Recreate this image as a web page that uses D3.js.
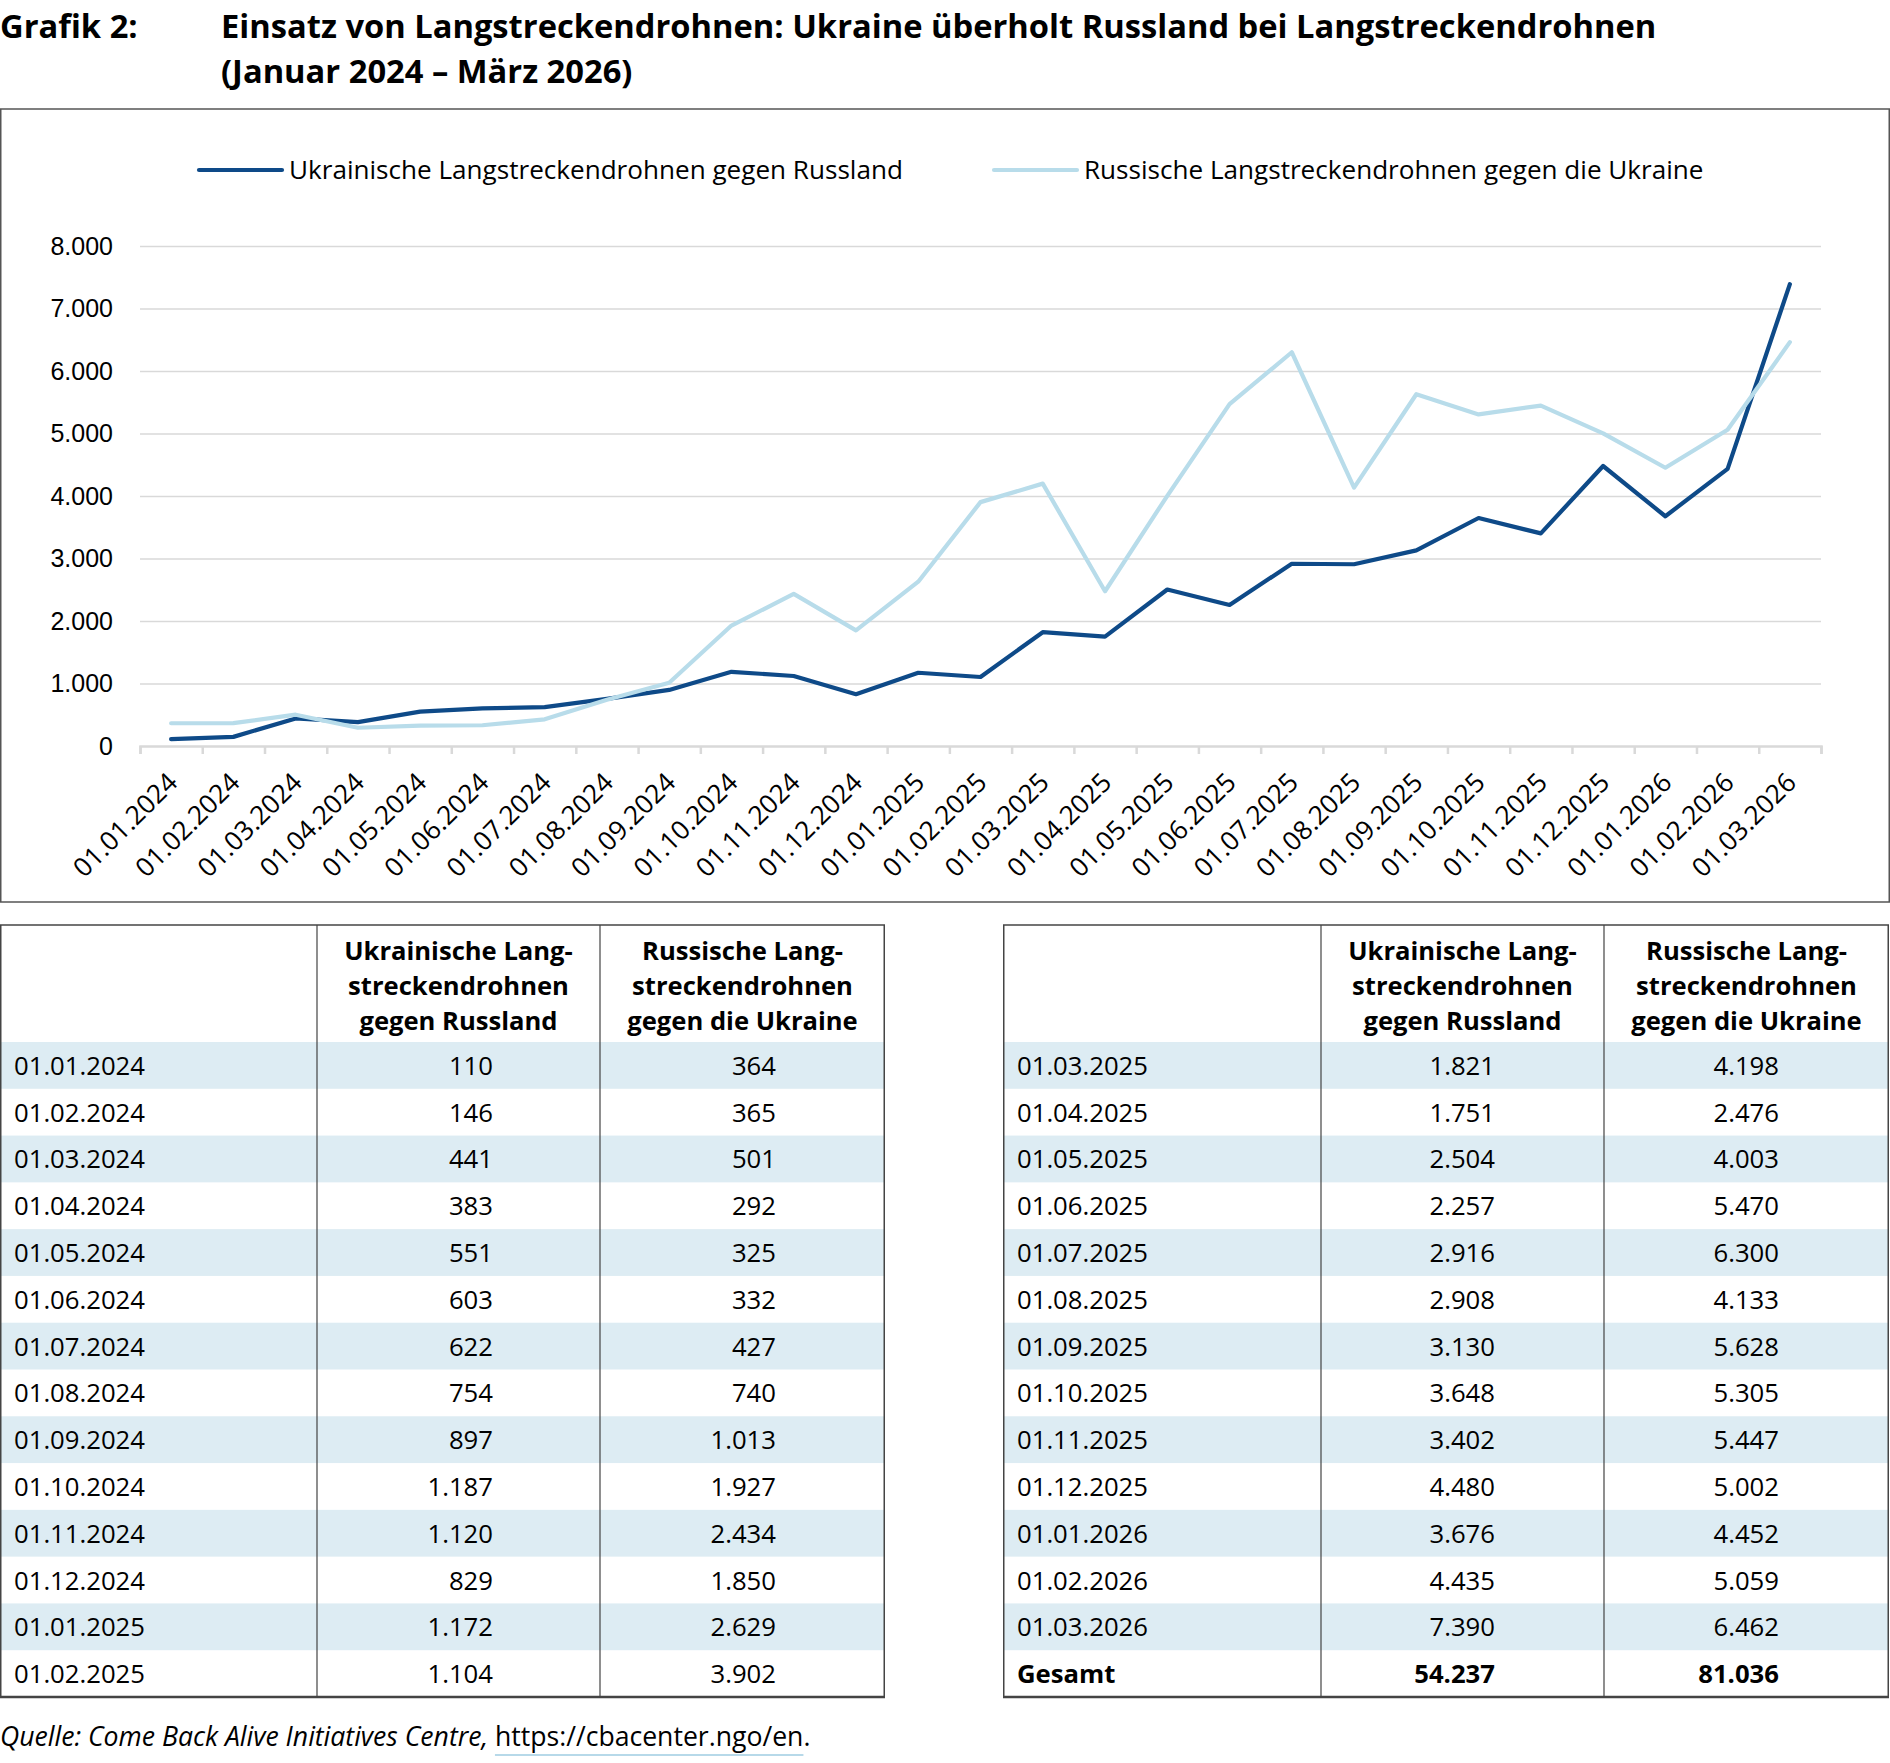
<!DOCTYPE html>
<html>
<head>
<meta charset="utf-8">
<script src="https://cdn.jsdelivr.net/npm/d3@7"></script>
<style>
  body { margin: 0; background: #fff; }
  svg { display: block; font-family: "Open Sans", "Noto Sans", sans-serif; }
</style>
</head>
<body>
<div id="chart"></div>
<script>
/* global d3 */
(function () {
  'use strict'

  // Data
  var dates = [
    '01.01.2024', '01.02.2024', '01.03.2024', '01.04.2024', '01.05.2024', '01.06.2024',
    '01.07.2024', '01.08.2024', '01.09.2024', '01.10.2024', '01.11.2024', '01.12.2024',
    '01.01.2025', '01.02.2025', '01.03.2025', '01.04.2025', '01.05.2025', '01.06.2025',
    '01.07.2025', '01.08.2025', '01.09.2025', '01.10.2025', '01.11.2025', '01.12.2025',
    '01.01.2026', '01.02.2026', '01.03.2026'
  ]
  var ukraine = [110, 146, 441, 383, 551, 603, 622, 754, 897, 1187, 1120, 829, 1172, 1104,
    1821, 1751, 2504, 2257, 2916, 2908, 3130, 3648, 3402, 4480, 3676, 4435, 7390]
  var russia = [364, 365, 501, 292, 325, 332, 427, 740, 1013, 1927, 2434, 1850, 2629, 3902,
    4198, 2476, 4003, 5470, 6300, 4133, 5628, 5305, 5447, 5002, 4452, 5059, 6462]
  var yTicks = [0, 1000, 2000, 3000, 4000, 5000, 6000, 7000, 8000]
  var seriesNames = [
    'Ukrainische Langstreckendrohnen gegen Russland',
    'Russische Langstreckendrohnen gegen die Ukraine'
  ]
  var headerLines = [
    ['Ukrainische Lang-', 'streckendrohnen', 'gegen Russland'],
    ['Russische Lang-', 'streckendrohnen', 'gegen die Ukraine']
  ]
  var totalLabel = 'Gesamt'
  var titleLabel = 'Grafik 2:'
  var titleLines = [
    'Einsatz von Langstreckendrohnen: Ukraine überholt Russland bei Langstreckendrohnen',
    '(Januar 2024 – März 2026)'
  ]
  var sourceText = 'Quelle: Come Back Alive Initiatives Centre, '
  var sourceLink = 'https://cbacenter.ngo/en'

  var colors = { ukr: '#0e4a88', rus: '#b8dcea', grid: '#d9d9d9', border: '#444', shade: '#ddecf3' }

  var de = d3.formatLocale({ decimal: ',', thousands: '.', grouping: [3], currency: ['', '€'] })
  var fmt = de.format(',d')

  var svg = d3.select('#chart').append('svg')
    .attr('width', 1890)
    .attr('height', 1763)

  // Title
  var title = svg.append('g').attr('font-weight', 700).attr('font-size', 32.7).attr('fill', '#000')
  title.append('text').attr('x', 0).attr('y', 38).text(titleLabel)
  title.selectAll('.tl').data(titleLines).enter().append('text')
    .attr('class', 'tl')
    .attr('x', 221)
    .attr('y', function (d, i) { return 38 + i * 45 })
    .text(function (d) { return d })

  // Chart frame
  svg.append('rect')
    .attr('x', 0.75).attr('y', 109)
    .attr('width', 1888.5).attr('height', 793)
    .attr('fill', 'none').attr('stroke', '#555').attr('stroke-width', 1.5)

  // Scales
  var plot = { left: 140, right: 1821, top: 246, bottom: 746 }
  var x = d3.scaleBand().domain(dates).range([plot.left, plot.right])
  var xIdx = d3.scaleLinear().domain([0, dates.length]).range([plot.left, plot.right])
  var y = d3.scaleLinear().domain([0, 8000]).range([plot.bottom, plot.top])

  // Gridlines
  svg.append('g')
    .attr('class', 'grid')
    .attr('transform', 'translate(' + plot.left + ',0)')
    .call(d3.axisLeft(y).tickValues(yTicks.slice(1)).tickSize(-(plot.right - plot.left)).tickFormat(''))
    .call(function (g) {
      g.select('.domain').remove()
      g.selectAll('line').attr('stroke', colors.grid).attr('stroke-width', 1.5)
    })

  // Y labels
  svg.append('g')
    .attr('transform', 'translate(' + plot.left + ',0)')
    .call(d3.axisLeft(y).tickValues(yTicks).tickSize(0).tickPadding(27).tickFormat(fmt))
    .call(function (g) {
      g.select('.domain').remove()
      g.selectAll('text').attr('font-size', 25).attr('font-family', null).attr('fill', '#000')
    })

  // X axis with ticks between categories
  svg.append('g')
    .attr('transform', 'translate(0,' + plot.bottom + ')')
    .call(d3.axisBottom(xIdx).tickValues(d3.range(dates.length + 1)).tickSize(8).tickSizeOuter(8).tickFormat(''))
    .call(function (g) {
      g.select('.domain').attr('stroke', colors.grid).attr('stroke-width', 2.5)
      g.selectAll('line').attr('stroke', colors.grid).attr('stroke-width', 2.5)
    })

  svg.append('g').selectAll('text').data(dates).enter().append('text')
    .attr('transform', function (d) {
      return 'translate(' + (x(d) + x.bandwidth() / 2 + 8) + ',' + (plot.bottom + 38) + ') rotate(-45)'
    })
    .attr('text-anchor', 'end')
    .attr('font-size', 26.3)
    .attr('fill', '#000')
    .text(function (d) { return d })

  // Lines
  var line = d3.line()
    .x(function (d, i) { return x(dates[i]) + x.bandwidth() / 2 })
    .y(function (d) { return y(d) })

  svg.append('path').datum(ukraine)
    .attr('d', line).attr('fill', 'none')
    .attr('stroke', colors.ukr).attr('stroke-width', 4.2)
    .attr('stroke-linecap', 'round').attr('stroke-linejoin', 'round')

  svg.append('path').datum(russia)
    .attr('d', line).attr('fill', 'none')
    .attr('stroke', colors.rus).attr('stroke-width', 4.2)
    .attr('stroke-linecap', 'round').attr('stroke-linejoin', 'round')

  // Legend
  var legend = [
    { name: seriesNames[0], color: colors.ukr, x: 199 },
    { name: seriesNames[1], color: colors.rus, x: 994 }
  ]
  var lg = svg.append('g').selectAll('g').data(legend).enter().append('g')
    .attr('transform', function (d) { return 'translate(' + d.x + ',170)' })
  lg.append('line')
    .attr('x1', 0).attr('x2', 83)
    .attr('stroke', function (d) { return d.color })
    .attr('stroke-width', 4.2).attr('stroke-linecap', 'round')
  lg.append('text')
    .attr('x', 90).attr('y', 9)
    .attr('font-size', 26.1)
    .attr('fill', '#000')
    .text(function (d) { return d.name })

  // Tables
  var rows = dates.map(function (d, i) { return { label: d, a: ukraine[i], b: russia[i] } })
  var leftRows = rows.slice(0, 14)
  var rightRows = rows.slice(14).concat([{ label: totalLabel, a: d3.sum(ukraine), b: d3.sum(russia), bold: true }])

  function drawTable (rowsData, cols, valueX) {
    var g = svg.append('g')
    var top = 925
    var bottom = 1697
    var ry = d3.scaleBand().domain(d3.range(rowsData.length)).range([1042, bottom])

    g.selectAll('.shade').data(rowsData).enter()
      .filter(function (d, i) { return i % 2 === 0 })
      .append('rect')
      .attr('x', cols[0]).attr('width', cols[3] - cols[0])
      .attr('y', function (d) { return ry(rowsData.indexOf(d)) })
      .attr('height', ry.bandwidth())
      .attr('fill', colors.shade)

    // header
    headerLines.forEach(function (lines, c) {
      var cx = (cols[c + 1] + cols[c + 2]) / 2
      g.selectAll('.h' + c).data(lines).enter().append('text')
        .attr('x', cx)
        .attr('y', function (d, i) { return 960 + i * 35 })
        .attr('text-anchor', 'middle')
        .attr('font-size', 25.6).attr('font-weight', 700)
        .text(function (d) { return d })
    })

    var r = g.selectAll('.row').data(rowsData).enter().append('g')
      .attr('transform', function (d, i) { return 'translate(0,' + (ry(i) + ry.bandwidth() / 2 + 9.5) + ')' })
      .attr('font-size', 25.7)
      .attr('font-weight', function (d) { return d.bold ? 700 : 400 })
    r.append('text').attr('x', cols[0] + 14).text(function (d) { return d.label })
    r.append('text').attr('x', valueX[0]).attr('text-anchor', 'end').text(function (d) { return fmt(d.a) })
    r.append('text').attr('x', valueX[1]).attr('text-anchor', 'end').text(function (d) { return fmt(d.b) })

    // borders
    g.append('line').attr('x1', cols[0]).attr('x2', cols[3]).attr('y1', top).attr('y2', top)
      .attr('stroke', colors.border).attr('stroke-width', 1.5)
    g.append('line').attr('x1', cols[0]).attr('x2', cols[3]).attr('y1', bottom).attr('y2', bottom)
      .attr('stroke', colors.border).attr('stroke-width', 2.5)
    g.selectAll('.v').data([cols[0] + 0.75, cols[1], cols[2], cols[3] - 0.75]).enter().append('line')
      .attr('x1', function (d) { return d }).attr('x2', function (d) { return d })
      .attr('y1', top).attr('y2', bottom)
      .attr('stroke', colors.border)
      .attr('stroke-width', function (d, i) { return i === 0 || i === 3 ? 1.5 : 1.2 })
  }

  drawTable(leftRows, [0, 317, 600, 885], [493, 776])
  drawTable(rightRows, [1003, 1321, 1604, 1889], [1495, 1779])

  // Source
  var src = svg.append('text').attr('x', 0).attr('y', 1746).attr('font-size', 26.6).attr('fill', '#000')
  var srcItalic = src.append('tspan').attr('font-style', 'italic').text(sourceText)
  var srcLink = src.append('tspan').text(sourceLink)
  src.append('tspan').text('.')
  var linkStart = srcItalic.node().getComputedTextLength()
  var linkWidth = srcLink.node().getComputedTextLength()
  svg.append('line')
    .attr('x1', linkStart).attr('x2', linkStart + linkWidth)
    .attr('y1', 1755).attr('y2', 1755)
    .attr('stroke', '#9fcde2').attr('stroke-width', 1.5)
}())
</script>
</body>
</html>
